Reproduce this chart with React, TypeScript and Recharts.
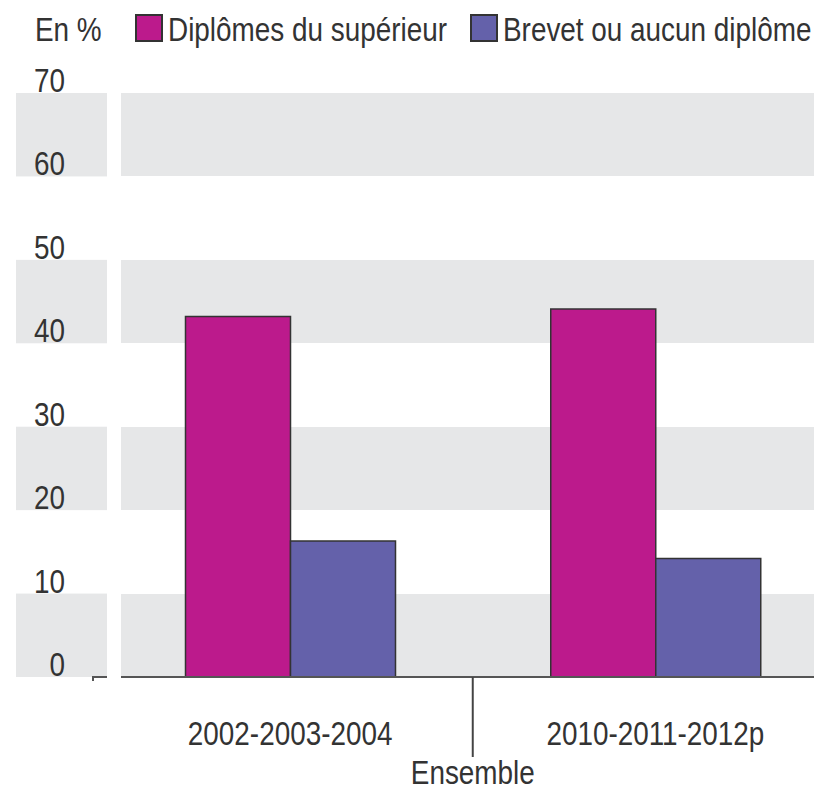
import * as React from "react";
import { Bar, BarChart, CartesianGrid, XAxis, YAxis } from "recharts";

const categories = ["2002-2003-2004", "2010-2011-2012p"];
const superieur = [43.2, 44.1];
const brevet = [16.3, 14.2];
const yTicks = [0, 10, 20, 30, 40, 50, 60, 70];
const seriesNames = ["Diplômes du supérieur", "Brevet ou aucun diplôme"];
const groupLabel = "Ensemble";
const unitLabel = "En %";

const PINK = "#bc1a8c";
const PURPLE = "#6461aa";
const GREY = "#e6e7e8";
const TEXT = "#333";
// no condensed font is installed, so squeeze Liberation Sans horizontally
const FONT = '"Liberation Sans", Arial, sans-serif';
const FONT_SIZE = 34;
const NARROW = 0.82;

const PLOT_TOP = 93;
const PLOT_H = 584;
const STRIPE = PLOT_H / (yTicks.length - 1);

const data = categories.map((cat, i) => ({
  cat,
  sup: superieur[i],
  brev: brevet[i],
}));

function NarrowText({ x, y, anchor = "start", children }: any) {
  return (
    <g transform={`translate(${x},${y}) scale(${NARROW},1)`}>
      <text x={0} y={0} textAnchor={anchor} fill={TEXT} fontFamily={FONT} fontSize={FONT_SIZE}>
        {children}
      </text>
    </g>
  );
}

function YTick({ x, y, payload }: any) {
  const v = payload.value;
  const shaded = v % 20 === 0 && v < 70;
  return (
    <g>
      {shaded && <rect x={x - 49} y={y - STRIPE} width={91} height={STRIPE} fill={GREY} />}
      {v === 0 && (
        <path d={`M${x + 28} ${y + 4} V${y} H${x + 42}`} stroke="#555" strokeWidth={2} fill="none" />
      )}
      <NarrowText x={x} y={y - 1} anchor="end">
        {v}
      </NarrowText>
    </g>
  );
}

function XTick({ x, y, payload, index }: any) {
  const half = payload.offset || 182.6;
  return (
    <g>
      <NarrowText x={x} y={y + 68} anchor="middle">
        {payload.value}
      </NarrowText>
      {index === 0 && (
        <g>
          <line x1={x + half} x2={x + half} y1={y} y2={y + 80} stroke="#444" strokeWidth={2} />
          <NarrowText x={x + half} y={y + 107} anchor="middle">
            {groupLabel}
          </NarrowText>
        </g>
      )}
    </g>
  );
}

function LegendText({ left, children }: any) {
  return (
    <div
      style={{
        position: "absolute",
        left,
        top: 12,
        fontFamily: FONT,
        fontSize: FONT_SIZE,
        lineHeight: `${FONT_SIZE}px`,
        color: TEXT,
        whiteSpace: "nowrap",
        transform: `scaleX(${NARROW})`,
        transformOrigin: "left top",
      }}
    >
      {children}
    </div>
  );
}

function Swatch({ left, color }: { left: number; color: string }) {
  return (
    <div
      style={{
        position: "absolute",
        left,
        top: 14,
        width: 24,
        height: 24,
        background: color,
        border: "2px solid #333",
      }}
    />
  );
}

export default function App() {
  return (
    <div style={{ position: "fixed", left: 0, top: 0, width: 814, height: 807, overflow: "hidden", background: "#fff" }}>
      <LegendText left={35}>{unitLabel}</LegendText>
      <Swatch left={135} color={PINK} />
      <LegendText left={168}>{seriesNames[0]}</LegendText>
      <Swatch left={470} color={PURPLE} />
      <LegendText left={503}>{seriesNames[1]}</LegendText>
      <div style={{ position: "absolute", left: 0, top: 0 }}>
        <BarChart
          width={838}
          height={807}
          data={data}
          margin={{ top: PLOT_TOP, right: 0, bottom: 0, left: 0 }}
          barGap={0}
        >
          <CartesianGrid vertical={false} stroke="none" horizontalFill={[GREY, "#fff"]} />
          <XAxis
            dataKey="cat"
            height={807 - PLOT_TOP - PLOT_H}
            padding={{ left: -13.5, right: 0 }}
            tickLine={false}
            tickSize={0}
            tickMargin={0}
            axisLine={{ stroke: "#555", strokeWidth: 2 }}
            tick={<XTick />}
            interval={0}
          />
          <YAxis
            domain={[0, 70]}
            ticks={yTicks}
            width={121}
            axisLine={false}
            tickLine={false}
            tickSize={0}
            tickMargin={56}
            tick={<YTick />}
            interval={0}
          />
          <Bar dataKey="sup" name={seriesNames[0]} fill={PINK} stroke="#333" strokeWidth={1.5} barSize={105} isAnimationActive={false} />
          <Bar dataKey="brev" name={seriesNames[1]} fill={PURPLE} stroke="#333" strokeWidth={1.5} barSize={105} isAnimationActive={false} />
        </BarChart>
      </div>
    </div>
  );
}
